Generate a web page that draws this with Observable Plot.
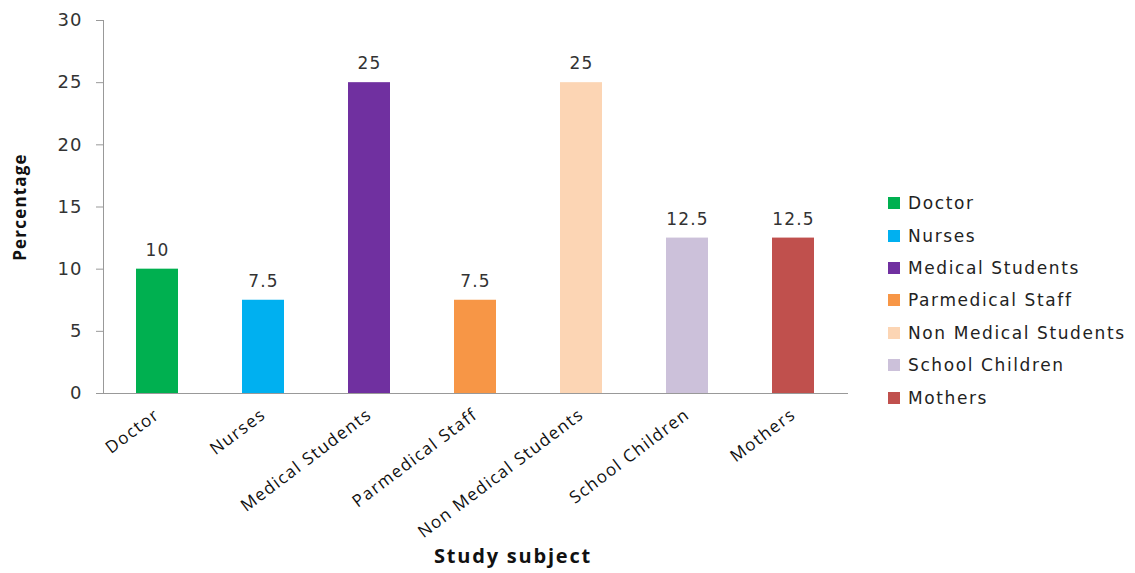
<!DOCTYPE html>
<html>
<head>
<meta charset="utf-8">
<script src="https://cdn.jsdelivr.net/npm/d3@7"></script>
<script src="https://cdn.jsdelivr.net/npm/@observablehq/plot@0.6"></script>
<style>
  html, body { margin: 0; padding: 0; background: #fff; }
  #wrap { position: relative; width: 1135px; height: 573px; }
  #legend { position: absolute; left: 888px; top: 187px; font-family: "DejaVu Sans", Verdana, sans-serif; font-size: 17px; letter-spacing: 1.6px; color: #222; }
  .row { display: flex; align-items: center; height: 32.4px; }
  .sw { width: 12px; height: 12px; margin-right: 8px; }
</style>
</head>
<body>
<div id="wrap"><div id="chart"></div><div id="legend"></div></div>
<script>
const categories = ["Doctor", "Nurses", "Medical Students", "Parmedical Staff", "Non Medical Students", "School Children", "Mothers"];
const values = [10, 7.5, 25, 7.5, 25, 12.5, 12.5];
const colors = ["#00B050", "#00B0F0", "#7030A0", "#F79646", "#FCD5B4", "#CCC1DA", "#C0504D"];
const yTicks = [0, 5, 10, 15, 20, 25, 30];

const data = categories.map((c, i) => ({category: c, value: values[i]}));

const chart = Plot.plot({
  width: 1135,
  height: 573,
  marginLeft: 103,
  marginRight: 287,
  marginTop: 20,
  marginBottom: 180,
  style: {fontFamily: "DejaVu Sans, Verdana, sans-serif", fontSize: "16px", color: "#333"},
  x: {domain: categories, paddingInner: 0.6, paddingOuter: 0.3, label: null},
  y: {domain: [0, 30], label: null},
  color: {domain: categories, range: colors},
  marks: [
    Plot.barY(data, {x: "category", y: "value", fill: "category"}),
    Plot.text(data, {x: "category", y: "value", text: d => String(d.value), dy: -19, fontSize: 17, fill: "#333"}),
    Plot.axisY({ticks: yTicks, tickSize: 7, tickPadding: 14, stroke: "#999", fill: "#333", fontSize: 18, label: null}),
    Plot.frame({anchor: "left", stroke: "#999"}),
    Plot.ruleY([0], {stroke: "#999", insetLeft: -7}),
    Plot.axisX({tickSize: 0, tickRotate: -37, tickPadding: 19, fontSize: 17, fill: "#111", fontFamily: "Open Sans, sans-serif", label: null}),
    Plot.text(["Percentage"], {frameAnchor: "left", dx: -83, rotate: -90, textAnchor: "middle", fontWeight: "bold", fontSize: 17, fontFamily: "Open Sans, sans-serif", fill: "#111"}),
    Plot.text(["Study subject"], {frameAnchor: "bottom", dx: 37, dy: 169, fontWeight: "bold", fontSize: 20, fontFamily: "Open Sans, sans-serif", fill: "#111"})
  ]
});
document.getElementById("chart").appendChild(chart);

// letter spacing to mimic the wide rendering of the original
const svg = d3.select(chart);
svg.selectAll('g[aria-label="y-axis tick label"] text').style("letter-spacing", "1px");
svg.selectAll('g[aria-label="x-axis tick label"] text').style("letter-spacing", "1.4px");
const textGroups = svg.selectAll('g[aria-label="text"]').nodes();
d3.select(textGroups[0]).selectAll("text").style("letter-spacing", "1.2px");
d3.select(textGroups[1]).selectAll("text").style("letter-spacing", "1.2px");
d3.select(textGroups[2]).selectAll("text").style("letter-spacing", "1.8px");

const legend = document.getElementById("legend");
categories.forEach((c, i) => {
  const row = document.createElement("div");
  row.className = "row";
  const sw = document.createElement("div");
  sw.className = "sw";
  sw.style.background = colors[i];
  const t = document.createElement("span");
  t.textContent = c;
  row.appendChild(sw);
  row.appendChild(t);
  legend.appendChild(row);
});
</script>
</body>
</html>
